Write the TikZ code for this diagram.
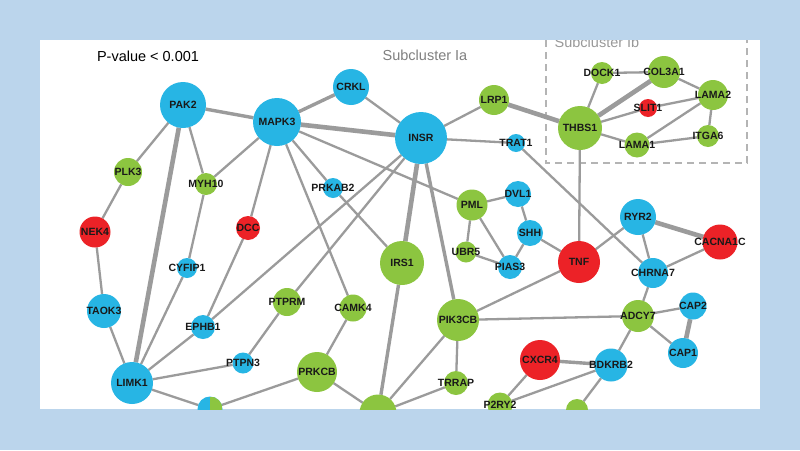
\documentclass[tikz,border=0pt]{standalone}
\usepackage{fontspec}
\setmainfont{Liberation Sans}
\usepackage{xcolor}
\usepackage{tikz}
\definecolor{genblue}{HTML}{27B5E4}
\definecolor{gengreen}{HTML}{8CC540}
\definecolor{genred}{HTML}{EC2227}
\definecolor{edgegray}{HTML}{9B9B9B}
\definecolor{boxgray}{HTML}{B4B4B4}
\definecolor{pageblue}{HTML}{BBD5EC}
\pgfdeclarelayer{bg}
\pgfdeclarelayer{edges}
\pgfsetlayers{bg,edges,main}

\begin{document}
\begin{tikzpicture}[x=1pt,y=-1pt,
  gene/.style={circle,inner sep=0pt,outer sep=0pt},
  genetext/.style={inner sep=0pt,text=black!90,font=\fontsize{10.5}{10}\selectfont\bfseries},
  link/.style={draw=edgegray,line width=2.3pt},
  midlink/.style={draw=edgegray,line width=3.4pt},
  heavy/.style={draw=edgegray,line width=4.6pt}]
\begin{pgfonlayer}{bg}
\fill[pageblue] (0,0) rectangle (800,450);
\fill[white] (40,40) rectangle (760,409);
\draw[boxgray,line width=1.8pt,dash pattern=on 7pt off 5pt] (546,40) -- (546,163) -- (747,163) -- (747,40);
\end{pgfonlayer}
\begin{scope}
\clip (40,40) rectangle (760,409);
\node[font=\fontsize{14.5}{16}\selectfont] (pval) at (148,56) {P-value < 0.001};
\node[font=\fontsize{14.5}{16}\selectfont,text=black!50] (subIa) at (425,55) {Subcluster Ia};
\node[font=\fontsize{14.5}{16}\selectfont,text=black!40,anchor=base] (subIb) at (597,47) {Subcluster Ib};
\foreach \n/\x/\y/\r/\c in {PAK2/183/105/23/genblue,MAPK3/277/122/24/genblue,CRKL/351/87/18/genblue,
  INSR/421/138/26/genblue,LRP1/494/100/15/gengreen,TRAT1/516/143/9/genblue,PLK3/128/172/14/gengreen,
  MYH10/206/184/11/gengreen,PRKAB2/333/188/10/genblue,PML/472/205/15.5/gengreen,DVL1/518/194/13/genblue,
  DOCK1/602/73/11/gengreen,COL3A1/664/72/16/gengreen,LAMA2/713/95/15/gengreen,SLIT1/648/108/9/genred,
  THBS1/580/128/22/gengreen,LAMA1/637/145/12.5/gengreen,ITGA6/708/136/11/gengreen,NEK4/95/232/15.5/genred,
  DCC/248/228/12/genred,CYFIP1/187/268/10/genblue,TAOK3/104/311/17/genblue,PTPRM/287/302/14/gengreen,
  EPHB1/203/327/12/genblue,PTPN3/243/363/10.5/genblue,LIMK1/132/383/21/genblue,IRS1/402/263/22/gengreen,
  CAMK4/353/308/13.5/gengreen,PIK3CB/458/320/21/gengreen,PRKCB/317/372/20/gengreen,TRRAP/456/383/12/gengreen,
  UBR5/466/252/10.5/gengreen,PIAS3/510/267/12/genblue,SHH/530/233/13/genblue,TNF/579/262/21/genred,
  RYR2/638/217/18/genblue,CACNA1C/720/242/17.5/genred,CHRNA7/653/273/15/genblue,ADCY7/638/316/16/gengreen,
  CAP2/693/306/13.5/genblue,CAP1/683/353/15/genblue,CXCR4/540/360/20/genred,BDKRB2/611/365/16.5/genblue,
  P2RY2/500/405/12.5/gengreen}{
  \node[gene,fill=\c,minimum size=2*\r,label={[genetext]center:\n}] (\n) at (\x,\y) {};}
\node[gene,fill=genblue,minimum size=25,path picture={\fill[gengreen] (path picture bounding box.north) rectangle (path picture bounding box.south east);}] (lowA) at (210,409) {};
\node[gene,fill=gengreen,minimum size=37] (lowB) at (378,413) {};
\node[gene,fill=gengreen,minimum size=22] (lowC) at (577,410) {};
\end{scope}
\begin{pgfonlayer}{edges}
\foreach \a/\b in {PAK2/PLK3,PAK2/MYH10,MAPK3/MYH10,MAPK3/DCC,MAPK3/PRKAB2,PRKAB2/IRS1,MAPK3/CAMK4,
  MAPK3/PML,CRKL/INSR,INSR/LRP1,INSR/TRAT1,INSR/EPHB1,INSR/PTPRM,PLK3/NEK4,NEK4/TAOK3,TAOK3/LIMK1,
  MYH10/CYFIP1,CYFIP1/LIMK1,DCC/EPHB1,EPHB1/LIMK1,PTPN3/LIMK1,PTPN3/PTPRM,CAMK4/PRKCB,PRKCB/lowA,
  PRKCB/lowB,LIMK1/lowA,PIK3CB/TRRAP,PIK3CB/lowB,TRRAP/lowB,PIK3CB/TNF,PIK3CB/ADCY7,PML/DVL1,PML/UBR5,
  PML/PIAS3,UBR5/PIAS3,DVL1/SHH,SHH/PIAS3,SHH/TNF,TNF/THBS1,TNF/RYR2,TRAT1/CHRNA7,RYR2/CHRNA7,
  CHRNA7/CACNA1C,CHRNA7/ADCY7,ADCY7/CAP2,ADCY7/CAP1,ADCY7/BDKRB2,BDKRB2/P2RY2,BDKRB2/lowC,CXCR4/P2RY2,
  THBS1/DOCK1,DOCK1/COL3A1,THBS1/SLIT1,SLIT1/LAMA2,THBS1/LAMA1,COL3A1/LAMA2,LAMA2/LAMA1,LAMA2/ITGA6,
  LAMA1/ITGA6}{\draw[link] (\a)--(\b);}
\foreach \a/\b in {PAK2/MAPK3,MAPK3/CRKL,INSR/PIK3CB,IRS1/lowB,CXCR4/BDKRB2}{\draw[midlink] (\a)--(\b);}
\foreach \a/\b in {MAPK3/INSR,PAK2/LIMK1,INSR/IRS1,LRP1/THBS1,THBS1/COL3A1,RYR2/CACNA1C,CAP2/CAP1}{\draw[heavy] (\a)--(\b);}
\end{pgfonlayer}
\end{tikzpicture}
\end{document}
